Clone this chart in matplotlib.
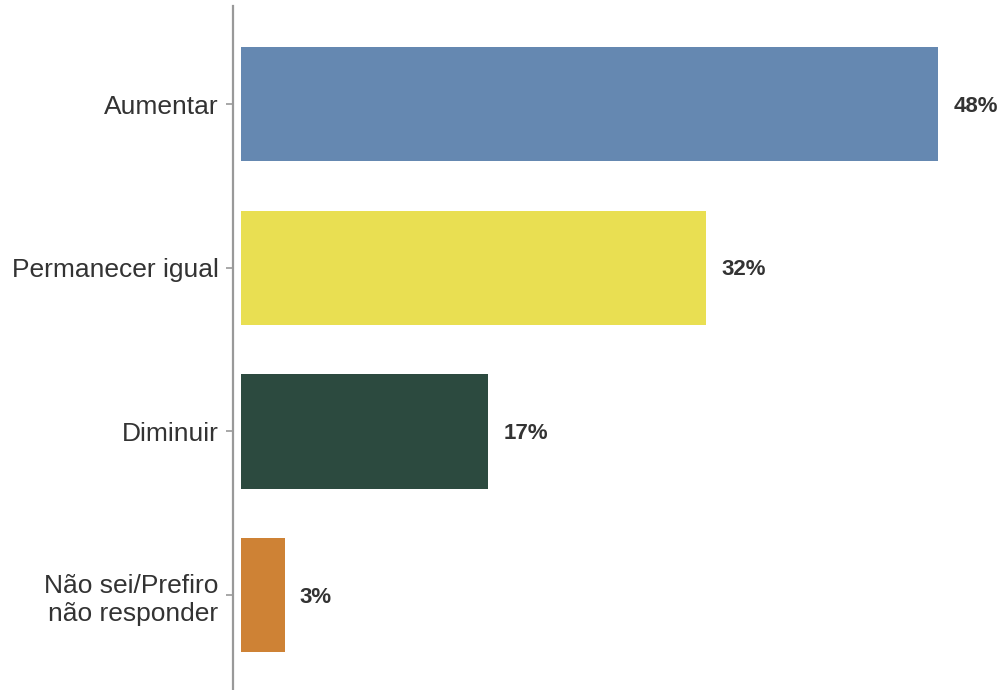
import matplotlib
matplotlib.use('Agg')
import matplotlib.pyplot as plt

plt.rcParams['font.family'] = ['Liberation Sans', 'DejaVu Sans']

categorias = ['Aumentar', 'Permanecer igual', 'Diminuir', 'Não sei/Prefiro\nnão responder']
valores = [48, 32, 17, 3]
cores = ['#6588B1', '#E9DF52', '#2C4A3F', '#CE8235']
rotulos = ['48%', '32%', '17%', '3%']

fig = plt.figure(figsize=(10.02, 6.9), dpi=100)
ax = fig.add_axes([233 / 1002, 0, 1 - 233 / 1002, 684 / 690])

pos = list(range(len(categorias)))
ax.barh(pos, valores, height=0.70, color=cores)

for p, v, r in zip(pos, valores, rotulos):
    ax.annotate(r, (v, p), xytext=(11, -1.5), textcoords='offset points',
                ha='left', va='center', fontsize=16, fontweight='bold', color='#333333')

ax.set_xlim(-0.55, 52.4)
ax.set_ylim(3.58, -0.60)
ax.set_yticks(pos)
ax.set_yticklabels(categorias, fontsize=19, color='#333333', linespacing=1.25)
ax.set_xticks([])

for s in ['top', 'right', 'bottom']:
    ax.spines[s].set_visible(False)
ax.spines['left'].set_color('#999999')
ax.spines['left'].set_linewidth(1.6)
ax.tick_params(axis='y', length=5, width=1.2, color='#999999', pad=5.5)

fig.savefig('out.png', dpi=100)
